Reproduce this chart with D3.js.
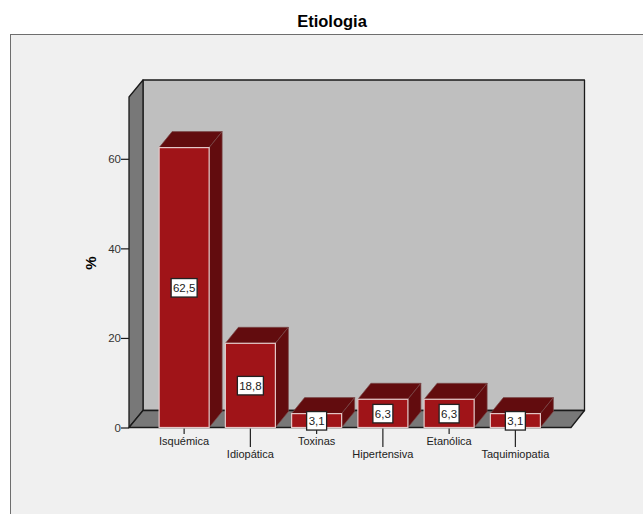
<!DOCTYPE html>
<html><head><meta charset="utf-8">
<script src="https://cdn.jsdelivr.net/npm/d3@7"></script>
<style>html,body{margin:0;padding:0;background:#fff;overflow:hidden}svg{display:block}text{font-family:"Liberation Sans",Arial,sans-serif}</style>
</head><body><svg id="c" width="643" height="514"></svg>
<script>
const categories=["Isquémica","Idiopática","Toxinas","Hipertensiva","Etanólica","Taquimiopatia"];
const values=[62.5,18.8,3.1,6.3,6.3,3.1];
const valueLabels=["62,5","18,8","3,1","6,3","6,3","3,1"];
const yTicks=[0,20,40,60];
const title="Etiologia", yTitle="%";

const svg=d3.select("#c");
const y=d3.scaleLinear().domain([0,73.8]).range([427.5,97]);
const x=d3.scaleBand().domain(categories).range([151.5,548]).paddingInner(0.245).paddingOuter(0.115);
const dx=14,dy=17,bdx=13,bdy=16;
const L=129,R=571,Y0=y(0),YT=y(73.8);
const poly=(p,fill,stroke,sw)=>svg.append("path").attr("d","M"+p.map(q=>q.join(",")).join("L")+"Z").attr("fill",fill).attr("stroke",stroke).attr("stroke-width",sw).attr("stroke-linejoin","round");

svg.append("rect").attr("x",10.5).attr("y",34.5).attr("width",640).attr("height",490).attr("fill","#f0f0f0").attr("stroke","#6e6e6e").attr("stroke-width",1);
svg.append("text").attr("x",332).attr("y",27).attr("text-anchor","middle").attr("font-size",16.5).attr("font-weight","bold").attr("fill","#000").text(title);

poly([[L+dx,YT-dy],[R+dx-0.5,YT-dy],[R+dx-0.5,Y0-dy],[L+dx,Y0-dy]],"#bfbfbf","#1a1a1a",1.3);
poly([[L,YT],[L+dx,YT-dy],[L+dx,Y0-dy],[L,Y0]],"#787878","#1a1a1a",1.3);
poly([[L,Y0],[L+dx,Y0-dy],[R+dx-0.5,Y0-dy],[R,Y0]],"#787878","#1a1a1a",1.3);

const yAxis=d3.axisLeft(y).tickValues(yTicks).tickSize(8).tickPadding(0).tickFormat(d3.format("d"));
const ga=svg.append("g").attr("transform",`translate(${L},0)`).call(yAxis);
ga.select(".domain").remove();
ga.selectAll("line").attr("stroke","#1a1a1a").attr("stroke-width",1.2);
ga.selectAll("text").attr("font-size",11.5).attr("fill","#333").attr("font-family",'"Liberation Sans",Arial,sans-serif');

svg.append("text").attr("transform","translate(96,263) rotate(-90)").attr("text-anchor","middle").attr("font-size",15).attr("font-weight","bold").attr("fill","#000").text(yTitle);

categories.forEach((c,i)=>{
  const v=values[i],x0=x(c),w=x.bandwidth(),x1=x0+w,t=y(v),cx=x0+w/2;
  const low=i%2===1;
  svg.append("line").attr("x1",cx).attr("x2",cx).attr("y1",Y0+1).attr("y2",low?447:434).attr("stroke","#222").attr("stroke-width",1.2);
  svg.append("text").attr("x",cx).attr("y",low?458:445).attr("text-anchor","middle").attr("font-size",11).attr("fill","#222").text(c);
  poly([[x0,t],[x0+bdx,t-bdy],[x1+bdx,t-bdy],[x1,t]],"#620c0e","#7a4a4a",0.7);
  poly([[x1,t],[x1+bdx,t-bdy],[x1+bdx,Y0-bdy],[x1,Y0]],"#620c0e","#7a4a4a",0.7);
  svg.append("rect").attr("x",x0).attr("y",t).attr("width",w).attr("height",Y0-t).attr("fill","#a01418").attr("stroke","#e4c8c8").attr("stroke-width",1.2);
});
categories.forEach((c,i)=>{
  const cx=x(c)+x.bandwidth()/2,cy=(y(values[i])+Y0)/2;
  const big=valueLabels[i].length>3,bw=big?26:20;
  svg.append("rect").attr("x",cx-bw/2).attr("y",cy-9).attr("width",bw).attr("height",18.5).attr("fill","#fff").attr("stroke","#222").attr("stroke-width",1.3);
  svg.append("text").attr("x",cx).attr("y",cy+4.3).attr("text-anchor","middle").attr("font-size",11.5).attr("fill","#222").text(valueLabels[i]);
});
</script></body></html>
